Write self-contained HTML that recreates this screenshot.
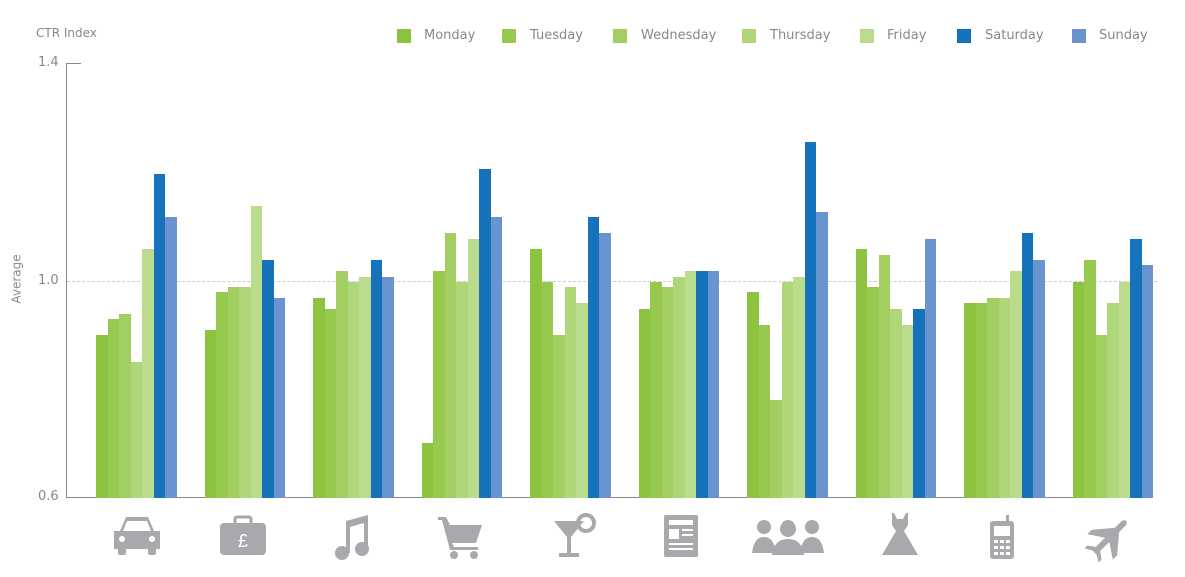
<!DOCTYPE html>
<html><head><meta charset="utf-8"><style>
body{margin:0;width:1185px;height:577px;background:#fff;position:relative;overflow:hidden;font-family:"DejaVu Sans","Liberation Sans",sans-serif;color:#888}
.b{position:absolute;width:11.5px}
.t{position:absolute;font-size:13px;color:#888}
.lg{position:absolute;top:29px;width:14px;height:14px}
.lt{position:absolute;top:28px;font-size:13px;color:#888}
</style></head><body>
<div class="t" style="left:36px;top:26px;font-size:12px">CTR Index</div>
<div class="t" style="left:38px;top:55px">1.4</div>
<div class="t" style="left:38px;top:273px">1.0</div>
<div class="t" style="left:38px;top:489px">0.6</div>
<div class="t" style="left:-8px;top:272px;font-size:12px;transform:rotate(-90deg)">Average</div>
<div style="position:absolute;left:66px;top:63px;width:1px;height:435px;background:#888"></div>
<div style="position:absolute;left:66px;top:63px;width:15px;height:1px;background:#888"></div>
<div style="position:absolute;left:66px;top:497px;width:1085px;height:1px;background:#888"></div>
<div style="position:absolute;left:67px;top:281px;width:1090px;border-top:1px dashed #ccc"></div>
<div id="bars"></div>
<div class="lg" style="left:397px;background:#8cc43f"></div><div class="lt" style="left:424px">Monday</div>
<div class="lg" style="left:502px;background:#97c94e"></div><div class="lt" style="left:530px">Tuesday</div>
<div class="lg" style="left:613px;background:#a3cf62"></div><div class="lt" style="left:641px">Wednesday</div>
<div class="lg" style="left:742px;background:#b0d67a"></div><div class="lt" style="left:770px">Thursday</div>
<div class="lg" style="left:860px;background:#bcdc8d"></div><div class="lt" style="left:887px">Friday</div>
<div class="lg" style="left:957px;background:#1572bb"></div><div class="lt" style="left:985px">Saturday</div>
<div class="lg" style="left:1072px;background:#6a94cf"></div><div class="lt" style="left:1099px">Sunday</div>
<svg style="position:absolute;left:0;top:505px" width="1185" height="60" fill="#a7a9ac">
<g transform="translate(112,10)"><path d="M8 16 L14 2 H36 L42 16 H48 V34 H2 V16Z"/><rect x="6" y="32" width="8" height="8" rx="2"/><rect x="36" y="32" width="8" height="8" rx="2"/><path d="M15 6 H35 L39 16 H11Z" fill="#fff"/><circle cx="10" cy="24" r="3" fill="#fff"/><circle cx="40" cy="24" r="3" fill="#fff"/></g>
<g transform="translate(220,10)"><rect x="0" y="8" width="46" height="32" rx="4"/><rect x="15" y="2" width="16" height="8" rx="2" fill="none" stroke="#a7a9ac" stroke-width="3"/><text x="23" y="32" font-size="18" fill="#fff" text-anchor="middle" font-family="Liberation Sans">£</text></g>
<g transform="translate(332,10)"><path d="M14 6 L36 0 V34 H32 V8 L18 12 V38 H14Z"/><circle cx="10" cy="38" r="7"/><circle cx="30" cy="34" r="7"/></g>
<g transform="translate(438,10)"><path d="M0 2 H8 L12 10 H44 L38 28 H14 L16 32 H40 V35 H12 L4 5 H0Z"/><circle cx="16" cy="40" r="4"/><circle cx="36" cy="40" r="4"/></g>
<g transform="translate(554,10)"><path d="M0 6 H30 L17 22 V38 H25 V42 H5 V38 H13 V22Z"/><circle cx="32" cy="8" r="8" fill="none" stroke="#a7a9ac" stroke-width="4"/></g>
<g transform="translate(664,10)"><rect x="0" y="0" width="34" height="42" rx="2"/><rect x="5" y="5" width="24" height="5" fill="#fff"/><rect x="5" y="14" width="10" height="10" fill="#fff"/><rect x="18" y="14" width="11" height="2" fill="#fff"/><rect x="18" y="19" width="11" height="2" fill="#fff"/><rect x="5" y="28" width="24" height="2" fill="#fff"/><rect x="5" y="33" width="24" height="2" fill="#fff"/></g>
<g transform="translate(752,10)"><circle cx="12" cy="12" r="7"/><circle cx="36" cy="12" r="7"/><circle cx="60" cy="12" r="7"/><path d="M0 38 Q2 22 12 22 Q22 22 24 38Z"/><path d="M48 38 Q50 22 60 22 Q70 22 72 38Z"/><circle cx="36" cy="14" r="8"/><path d="M20 40 Q22 24 36 24 Q50 24 52 40Z"/></g>
<g transform="translate(880,8)"><path d="M12 0 H14 L17 6 H23 L26 0 H28 V12 L24 18 L38 42 H2 L16 18 L12 12Z"/></g>
<g transform="translate(990,10)"><rect x="0" y="6" width="24" height="38" rx="3"/><rect x="16" y="0" width="3" height="8"/><rect x="4" y="11" width="16" height="10" fill="#fff"/><g fill="#fff"><rect x="4" y="25" width="4" height="3"/><rect x="10" y="25" width="4" height="3"/><rect x="16" y="25" width="4" height="3"/><rect x="4" y="31" width="4" height="3"/><rect x="10" y="31" width="4" height="3"/><rect x="16" y="31" width="4" height="3"/><rect x="4" y="37" width="4" height="3"/><rect x="10" y="37" width="4" height="3"/><rect x="16" y="37" width="4" height="3"/></g></g>
<g transform="translate(1110,32) rotate(-45)"><path d="M-22 -3 H-4 L-14 -18 H-8 L10 -3 H20 Q26 0 20 3 H10 L-8 18 H-14 L-4 3 H-22Z"/><path d="M-22 -3 L-26 -10 H-22 L-17 -3Z"/><path d="M-22 3 L-26 10 H-22 L-17 3Z"/></g>
</svg>
<script>
var c=["#8cc43f","#97c94e","#a3cf62","#b0d67a","#bcdc8d","#1572bb","#6a94cf"];
var d=[[335,319,314,362,249,174,217],[330,292,287,287,206,260,298],[298,309,271,282,277,260,277],[443,271,233,282,239,169,217],[249,282,335,287,303,217,233],[309,282,287,277,271,271,271],[292,325,400,282,277,142,212],[249,287,255,309,325,309,239],[303,303,298,298,271,233,260],[282,260,335,303,282,239,265]];
var h="";
for(var g=0;g<10;g++){var x0=96+g*108.5;for(var i=0;i<7;i++){var t=d[g][i];h+='<div class="b" style="left:'+(x0+i*11.5)+'px;top:'+t+'px;height:'+(498-t)+'px;background:'+c[i]+'"></div>';}}
document.getElementById("bars").innerHTML=h;
</script>
</body></html>
